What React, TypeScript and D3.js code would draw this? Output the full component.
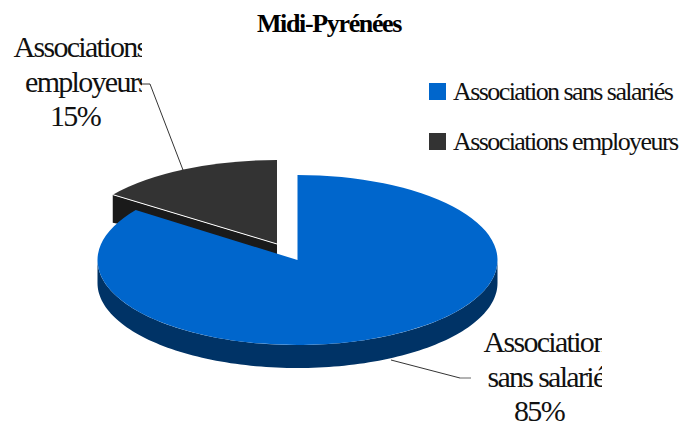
import React from "react";
import * as d3 from "d3";

const title = "Midi-Pyrénées";
const categories = ["Association sans salariés", "Associations employeurs"];
const shares = [85, 15];
const colors = ["#0066cc", "#333333"];
const sideColors = ["#003366", "#1a1a1a"];
const calloutLines = [["Association", "sans salariés", "85%"], ["Associations", "employeurs", "15%"]];

const serif = "'Liberation Serif', serif";
const DEPTH = 23;
const geometry = [
  { x: 297.5, y: 260, rx: 200, ry: 85 },
  { x: 277, y: 244, rx: 203, ry: 84 },
];

const pieData = d3.pie<number>().sort(null)(shares);
const arcGen = d3.arc<any>().innerRadius(0).outerRadius(100);

function pt(c: { x: number; y: number; rx: number; ry: number }, a: number, dy = 0) {
  return [c.x + c.rx * Math.sin(a), c.y - c.ry * Math.cos(a) + dy];
}

function sideWall(c: { x: number; y: number; rx: number; ry: number }, a0: number, a1: number) {
  const n = 120;
  const angle = d3.scaleLinear().domain([0, n]).range([a0, a1]);
  const top = d3.range(n + 1).map((i) => pt(c, angle(i)));
  const bottom = d3.range(n + 1).map((i) => pt(c, angle(n - i), DEPTH));
  return d3.line()([...top, ...bottom]) + "Z";
}

export default function App() {
  const [blue, dark] = pieData;
  const cb = geometry[0];
  const cd = geometry[1];
  const darkOuter = pt(cd, dark.startAngle);
  const darkFace = d3.line()([
    darkOuter,
    [cd.x, cd.y],
    [cd.x, cd.y + 12],
    [darkOuter[0], darkOuter[1] + 28],
  ]) + "Z";
  return (
    <svg width={684} height={425} style={{ position: "absolute", left: 0, top: 0, background: "#fff" }} fontFamily={serif}>
      <defs>
        <clipPath id="clipEmp"><rect x={0} y={30} width={142} height={72} /></clipPath>
        <clipPath id="clipSans"><rect x={470} y={325} width={132} height={70} /></clipPath>
      </defs>
      <text x={329} y={32} textAnchor="middle" fontSize={26} fontWeight="bold" letterSpacing={-1.35} fill="#000">{title}</text>

      {/* exploded dark slice */}
      <path d={darkFace} fill={sideColors[1]} />
      <path d={arcGen(dark) as string} transform={`translate(${cd.x},${cd.y}) scale(${cd.rx / 100},${cd.ry / 100})`} fill={colors[1]} />
      <line x1={darkOuter[0]} y1={darkOuter[1]} x2={cd.x} y2={cd.y} stroke="#fff" strokeWidth={1} />

      {/* blue slice */}
      <path d={sideWall(cb, Math.PI / 2, 3 * Math.PI / 2)} fill={sideColors[0]} />
      <path d={arcGen(blue) as string} transform={`translate(${cb.x},${cb.y}) scale(${cb.rx / 100},${cb.ry / 100})`} fill={colors[0]} />

      {/* leaders */}
      <path d={d3.line()([[142, 84], [150, 84], [183, 170]]) as string} fill="none" stroke="#000" strokeWidth={0.8} />
      <path d={d3.line()([[391, 360], [460, 378]]) as string} fill="none" stroke="#000" strokeWidth={0.8} />
      <line x1={460} y1={378} x2={471} y2={378} stroke="#666" strokeWidth={1} />

      {/* callouts */}
      <g fontSize={30} letterSpacing={-1.7} fill="#111" textAnchor="middle">
        <g clipPath="url(#clipEmp)">
          <text x={80} y={57}>{calloutLines[1][0]}</text>
          <text x={86.5} y={92}>{calloutLines[1][1]}</text>
        </g>
        <text x={75} y={126}>{calloutLines[1][2]}</text>
        <g clipPath="url(#clipSans)">
          <text x={545} y={352}>{calloutLines[0][0]}</text>
          <text x={551} y={387}>{calloutLines[0][1]}</text>
        </g>
        <text x={539} y={421}>{calloutLines[0][2]}</text>
      </g>

      {/* legend */}
      {categories.map((c, i) => (
        <g key={c}>
          <rect x={429} y={83 + i * 50} width={17} height={17} fill={colors[i]} />
          <text x={453} y={100 + i * 50} fontSize={26} letterSpacing={-1.57} fill="#111">{c}</text>
        </g>
      ))}
    </svg>
  );
}
